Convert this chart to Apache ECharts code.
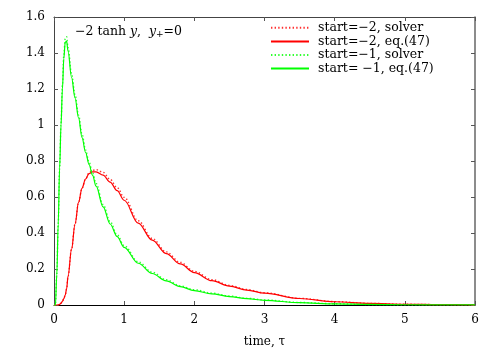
<!DOCTYPE html>
<html>
<head>
<meta charset="utf-8">
<script src="https://cdn.jsdelivr.net/npm/echarts@6/dist/echarts.min.js"></script>
<style>
  html, body { margin: 0; padding: 0; background: #fff; }
  #pic { width: 500px; height: 350px; }
</style>
</head>
<body>
<div id="pic"></div>
<script>
// time grid, tau
var times = [0, 0.02, 0.04, 0.06, 0.08, 0.1, 0.12, 0.14, 0.16, 0.18, 0.2, 0.25, 0.3, 0.35, 0.4, 0.45, 0.5, 0.55, 0.6,
  0.7, 0.8, 0.9, 1.0, 1.2, 1.4, 1.6, 1.8, 2.0, 2.25, 2.5, 2.75, 3.0, 3.5, 4.0, 4.5, 5.0, 5.5, 6.0];

// start=-2
var m2Solver = [0, 0, 0, 0, 0.004, 0.01, 0.02, 0.035, 0.055, 0.09, 0.16, 0.31, 0.45, 0.57, 0.65, 0.70, 0.735, 0.748, 0.752,
  0.737, 0.698, 0.652, 0.598, 0.468, 0.37, 0.295, 0.237, 0.187, 0.141, 0.109, 0.086, 0.068, 0.037, 0.019, 0.009, 0.004, 0.002, 0.001];
var m2Eq = [0, 0, 0, 0, 0.004, 0.01, 0.02, 0.035, 0.055, 0.09, 0.16, 0.31, 0.45, 0.57, 0.65, 0.70, 0.73, 0.74, 0.74,
  0.722, 0.683, 0.635, 0.582, 0.455, 0.36, 0.285, 0.228, 0.18, 0.135, 0.105, 0.083, 0.066, 0.036, 0.018, 0.009, 0.004, 0.002, 0.001];

// start=-1
var m1Solver = [0, 0, 0.17, 0.45, 0.76, 1.01, 1.22, 1.39, 1.48, 1.49, 1.43, 1.285, 1.167, 1.055, 0.947, 0.862, 0.793, 0.733, 0.675,
  0.558, 0.463, 0.39, 0.33, 0.24, 0.182, 0.14, 0.106, 0.085, 0.066, 0.05, 0.037, 0.028, 0.014, 0.007, 0.003, 0.0015, 0.0007, 0.0003];
var m1Eq = [0, 0, 0.17, 0.45, 0.76, 1.0, 1.2, 1.37, 1.46, 1.465, 1.41, 1.265, 1.15, 1.04, 0.93, 0.848, 0.78, 0.72, 0.66,
  0.545, 0.45, 0.38, 0.32, 0.232, 0.175, 0.134, 0.102, 0.08, 0.062, 0.047, 0.035, 0.026, 0.013, 0.006, 0.003, 0.0015, 0.0007, 0.0003];

var seriesNames = ['start=\u22122, solver', 'start=\u22122, eq.(47)', 'start=\u22121, solver', 'start= \u22121, eq.(47)'];
var xTicks = [0, 6, 1];
var yTicks = [0, 1.6, 0.2];

function pairs(vals) {
  return times.map(function (t, i) { return [t, vals[i]]; });
}

var font = 'DejaVu Serif';
var myChart = echarts.init(document.getElementById('pic'));

function lineSeries(name, vals, color, dotted, z) {
  return {
    name: name,
    type: 'line',
    data: pairs(vals),
    showSymbol: false,
    symbol: 'none',
    smooth: 0.35,
    smoothMonotone: 'x',
    z: z,
    lineStyle: {
      color: color,
      width: dotted ? 1.4 : 1.2,
      type: dotted ? [1.4, 2.2] : 'solid'
    },
    itemStyle: { color: color }
  };
}

var option = {
  animation: false,
  backgroundColor: '#fff',
  grid: { left: 54, right: 25, top: 17, bottom: 45, outerBoundsMode: 'none' },
  legend: {
    orient: 'vertical',
    left: 270,
    top: 21,
    padding: 0,
    itemWidth: 38,
    itemHeight: 10,
    itemGap: 0,
    itemStyle: { opacity: 0 },
    textStyle: { fontFamily: font, fontSize: 12.5, lineHeight: 13.6, color: '#000', padding: [0, 0, 0, 4] },
    data: seriesNames
  },
  graphic: [{
    type: 'text',
    left: 75,
    top: 25,
    style: {
      text: '{n|\u22122 tanh }{i|y}{n|,  }{i|y}{s|+}{n|=0}',
      rich: {
        n: { fontFamily: font, fontSize: 12.5, fill: '#000' },
        i: { fontFamily: font, fontSize: 12.5, fontStyle: 'italic', fill: '#000' },
        s: { fontFamily: font, fontSize: 9, fill: '#000', padding: [7, 0, 0, 0] }
      }
    }
  }],
  xAxis: [{
    type: 'value',
    min: xTicks[0], max: xTicks[1], interval: xTicks[2],
    position: 'bottom',
    name: 'time, \u03c4',
    nameLocation: 'middle',
    nameGap: 31,
    nameTextStyle: { fontFamily: font, fontSize: 12, color: '#000' },
    axisLine: { onZero: false, lineStyle: { color: '#000', width: 1 } },
    axisTick: { inside: true, length: 4, lineStyle: { color: '#555' } },
    axisLabel: { fontFamily: font, fontSize: 12, color: '#000', margin: 9 },
    splitLine: { show: false }
  }, {
    type: 'value',
    min: xTicks[0], max: xTicks[1], interval: xTicks[2],
    position: 'top',
    axisLine: { onZero: false, lineStyle: { color: '#444', width: 1 } },
    axisTick: { inside: true, length: 4, lineStyle: { color: '#555' } },
    axisLabel: { show: false },
    splitLine: { show: false }
  }],
  yAxis: [{
    type: 'value',
    min: yTicks[0], max: yTicks[1], interval: yTicks[2],
    position: 'left',
    axisLine: { show: true, onZero: false, lineStyle: { color: '#444', width: 1 } },
    axisTick: { show: true, inside: true, length: 4, lineStyle: { color: '#555' } },
    axisLabel: {
      fontFamily: font, fontSize: 12, color: '#000', margin: 9,
      formatter: function (v) { return String(+v.toFixed(1)); }
    },
    splitLine: { show: false }
  }, {
    type: 'value',
    min: yTicks[0], max: yTicks[1], interval: yTicks[2],
    position: 'right',
    axisLine: { show: true, onZero: false, lineStyle: { color: '#666', width: 1.5 } },
    axisTick: { show: true, inside: true, length: 4, lineStyle: { color: '#555' } },
    axisLabel: { show: false },
    splitLine: { show: false }
  }],
  tooltip: { show: false },
  series: [
    lineSeries(seriesNames[0], m2Solver, '#ff3030', true, 2),
    lineSeries(seriesNames[1], m2Eq, '#ff0000', false, 3),
    lineSeries(seriesNames[2], m1Solver, '#30ff30', true, 2),
    lineSeries(seriesNames[3], m1Eq, '#00ff00', false, 3)
  ]
};
myChart.setOption(option);
</script>
</body>
</html>
